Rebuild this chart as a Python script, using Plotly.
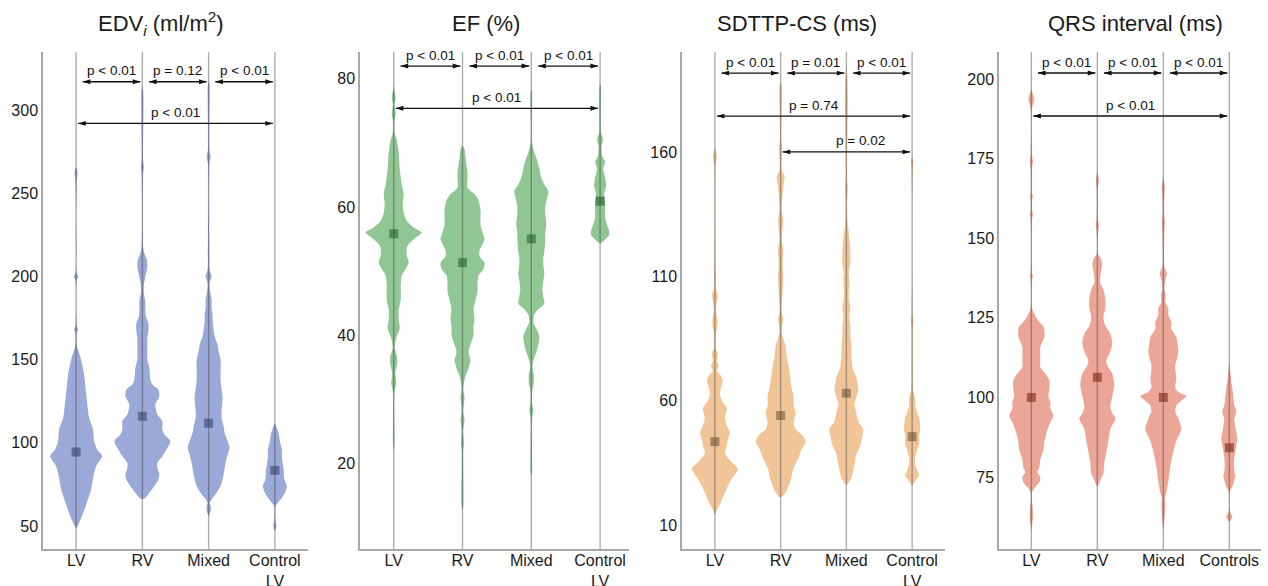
import plotly.graph_objects as go

W, H = 1268, 586

# ---------------- data ----------------
CATS_A = ["LV", "RV", "Mixed", "Control<br>LV"]
CATS_B = ["LV", "RV", "Mixed", "Controls"]

TITLES = ["EDV<sub><i>i</i></sub> (ml/m<sup>2</sup>)", "EF (%)", "SDTTP-CS (ms)", "QRS interval (ms)"]

EDV_TICKS = [50, 100, 150, 200, 250, 300]
EF_TICKS = [20, 40, 60, 80]
SD_TICKS = [10, 60, 110, 160]
QRS_TICKS = [75, 100, 125, 150, 175, 200]

# group means (square markers)
EDV_MEAN = [94.5, 116.0, 111.8, 83.5]
EF_MEAN = [55.8, 51.3, 55.0, 60.9]
SD_MEAN = [43.5, 54.0, 63.0, 45.5]
QRS_MEAN = [100.0, 106.3, 100.0, 84.2]

# violin outlines: (value, half-width in px)
EDV_LV = [(49, 0), (50, 1.5), (52, 3), (56, 6), (63, 10), (72, 15), (79, 17), (86, 20), (92, 26),
          (96, 21), (101, 18), (108, 17), (115, 13), (119, 12), (130, 10), (141, 8), (150, 5),
          (157, 1.5), (159, 0.7), (166, 0.7), (168, 2), (170, 0.7), (198, 0.7), (200, 2.5),
          (202, 0.7), (258, 0.7), (262, 1.5), (265, 0.7), (266, 0)]
EDV_RV = [(66, 0), (67, 3), (70, 7), (74, 12), (78, 16), (81, 17), (85, 15), (88, 15), (92, 20),
          (96, 24), (101, 28), (105, 22), (108, 20), (113, 20), (117, 15), (123, 13), (128, 17),
          (132, 16), (135, 10), (138, 8), (145, 7), (150, 5), (155, 5), (160, 5), (163, 5),
          (167, 6), (172, 6), (176, 3.5), (180, 3), (185, 3), (190, 1.5), (195, 1.5), (200, 3),
          (206, 5), (210, 4.5), (214, 2), (218, 0.7), (262, 0.7), (266, 1.5), (270, 0.7),
          (312, 0.7), (313, 0)]
EDV_MIX = [(56, 0), (57, 0.7), (59, 2), (62, 2), (64, 1), (66, 3), (70, 8), (74, 12), (81, 15),
           (88, 17), (93, 19), (97, 21), (101, 19), (106, 16), (110, 15), (115, 13), (119, 13),
           (127, 14), (137, 12), (145, 12), (150, 12), (155, 10), (159, 9), (164, 6), (168, 5),
           (173, 4), (177, 4), (181, 3), (186, 3), (191, 1.5), (196, 1), (200, 3), (204, 1),
           (212, 0.7), (268, 0.7), (272, 2), (276, 0.7), (316, 0.7), (317, 0)]
EDV_CTL = [(47, 0), (48, 0.7), (50, 1.5), (53, 0.7), (62, 0.7), (64, 3), (67, 7), (70, 10),
           (74, 12), (77, 10), (80, 9), (83, 9), (87, 8), (92, 7), (96, 7), (101, 5), (105, 4),
           (109, 2), (112, 0)]

EF_LV = [(22, 0), (23, 0.7), (31, 0.7), (32.5, 2.5), (34, 1.5), (35.5, 3.5), (36.5, 3.5),
         (38, 1), (39.5, 2.5), (41, 6), (42.5, 5), (44, 5), (45.5, 7), (47.8, 7), (49.3, 8),
         (50.3, 12), (51.3, 15), (52.5, 13), (53.6, 13), (54.4, 16), (55.2, 22), (56, 28),
         (56.8, 20), (57.8, 13), (59, 10), (60.5, 9), (62, 10), (63.5, 8), (66, 6), (68.5, 5),
         (70.5, 3), (71.5, 1), (73.3, 0.7), (74.7, 2), (76, 0.7), (77, 2), (78.2, 0.7), (79, 0)]
EF_RV = [(12.8, 0), (13, 0.7), (22, 0.7), (23, 1.5), (25, 0.7), (26.8, 2), (28, 0.7),
         (30.3, 2), (31.5, 0.7), (33.3, 2.5), (34.8, 6), (36, 8), (37.3, 6), (38.5, 8),
         (40, 11), (41.3, 11), (42.5, 12), (44, 11), (45.5, 13), (46.8, 15), (48, 15),
         (49.3, 16), (50.3, 21), (51.3, 22), (52.3, 17), (53.2, 17), (54.2, 20), (55, 22),
         (56, 20), (57.2, 18), (59.5, 18), (61, 16), (62, 12), (63, 5), (64.5, 5), (65.5, 5),
         (66.5, 4), (67.7, 3), (69, 2), (69.6, 0)]
EF_MIX = [(18, 0), (18.5, 0.7), (27, 0.7), (28.2, 2), (29.5, 0.7), (31.5, 1), (32.5, 2.5),
          (33.8, 2.5), (35, 1), (36.2, 2.5), (37.3, 5), (38.5, 7), (39.8, 8), (41, 5), (42, 2),
          (43.2, 3), (44, 7), (44.9, 13), (46, 12), (47.2, 11), (48.5, 12), (49.6, 13), (51, 12),
          (52, 12), (53, 13), (54.9, 14), (56, 14), (57.2, 15), (59, 14), (60.1, 14), (61.5, 16),
          (62.5, 17), (63.5, 13), (64.5, 10), (66, 8), (67.2, 6), (68.5, 3), (70, 0.7), (78, 0.7),
          (78.4, 0)]
EF_CTL = [(54.3, 0), (54.9, 5), (55.6, 9), (56.3, 9), (57.2, 7), (58.4, 5), (59.5, 5),
          (60.7, 5), (62, 4), (63.3, 6), (64.6, 5), (66, 3), (67, 5), (68, 2), (69.5, 1.5),
          (70.6, 3), (71.6, 1), (73, 0.7), (78.8, 0.7), (79.2, 0)]

SD_LV = [(14, 0), (16, 2), (19, 6), (23, 10), (28, 16), (32.5, 23), (36, 15), (39, 10),
         (42, 12), (44.5, 13), (47, 15), (50, 12), (53, 10), (57, 12), (60, 7), (62.5, 5),
         (65, 6), (68, 8), (70, 6), (72, 2), (74, 4), (76, 2), (79, 3), (81, 1), (87, 1),
         (90, 2.5), (93, 2.5), (96, 1), (100, 2), (102.5, 3), (105, 1), (110, 1), (113, 0.7),
         (155, 0.7), (158, 2), (161, 0.7), (162, 0)]
SD_RV = [(21, 0), (23, 5), (28, 10), (33, 13), (37, 18), (40.5, 21), (43.5, 25), (46, 22),
         (48.5, 15), (51, 13), (55, 15), (58, 13), (62, 13), (65, 11), (68, 10), (71, 9),
         (74, 8), (78, 6), (82, 5), (86, 2), (88, 1), (93, 2.5), (96, 1), (104, 2), (110, 2.5),
         (115, 2), (121, 2.5), (125, 1), (129, 2), (133, 2.5), (137, 1), (147, 3), (150, 4),
         (153, 1), (162, 1.5), (165, 0.7), (187, 1), (188, 0)]
SD_MIX = [(26, 0), (29, 5), (34, 8), (38.5, 10), (41, 13), (43.5, 15), (46, 16), (48.5, 17),
          (51.5, 12), (55, 10), (58.5, 8), (61.5, 10), (64.5, 12), (67, 11), (69.5, 10),
          (72, 7), (74, 6), (78, 5), (82, 5), (86, 4), (90, 4), (94, 3), (98, 4), (101, 2.5),
          (104, 2.5), (108, 3), (112, 2.5), (115, 4), (120, 4), (125, 3), (129, 2), (133, 1),
          (140, 0.7), (145, 1.5), (150, 0.7), (169, 1), (180, 1.5), (190, 1), (195, 0)]
SD_CTL = [(26, 0), (28, 3.5), (30, 7), (32, 5), (34.5, 3), (37, 3), (40, 5), (43, 7),
          (46, 7), (48, 8), (50, 8), (53, 7), (55, 5), (58, 3), (60, 3), (62, 2.5), (64, 1),
          (72, 0.7), (90, 0.7), (92, 1.5), (94, 0.7), (154, 0.7), (156, 1.5), (158, 0)]

QRS_LV = [(58, 0), (60, 0.7), (62, 1.5), (65, 1.5), (67, 0.7), (70.2, 0.7), (71.5, 3),
          (73.4, 8), (75, 9), (76.5, 6), (78, 8), (80.5, 9), (83.3, 12), (86, 13), (88.7, 15),
          (91.5, 18), (94.3, 22), (96.5, 19), (98.5, 19), (100.5, 17), (102.5, 18), (105.3, 18),
          (107.5, 14), (109.5, 9), (112, 9), (115.8, 9), (117.5, 11), (119, 13), (122, 12.5),
          (124.5, 6), (126.8, 2), (128, 0.7), (137, 0.7), (138, 1.5), (139, 0.7), (156, 0.7),
          (157.5, 1.5), (159, 0.7), (162, 0.7), (163, 1.5), (164, 0.7), (172, 0.7), (174, 1.5),
          (176, 0.7), (191, 0.7), (193.6, 3), (196, 0.7), (197, 0)]
QRS_RV = [(72, 0), (74, 3), (76, 6), (79.4, 7), (83, 9), (86.4, 11), (90, 13), (93.4, 18),
          (95, 15), (97, 13), (100.4, 15), (104, 17), (107.4, 15), (110, 10), (111.5, 9),
          (114.4, 13), (117, 15), (120, 13), (122.5, 8), (125, 6), (128, 8), (131, 8),
          (134, 6), (136, 3), (138, 3), (140, 4), (142, 5), (144, 3), (145, 0.7), (152, 0.7),
          (154, 1.5), (156, 0.7), (166, 0.7), (168, 1.5), (170, 0.7), (171, 0)]
QRS_MIX = [(58.5, 0), (60, 0.7), (63, 1.5), (66.6, 2), (68.5, 1.5), (70, 3), (73.6, 5),
           (78.3, 7), (83, 10), (86.4, 13), (90, 18), (93.4, 15), (95.5, 12), (97.5, 13),
           (99, 18), (100.4, 23), (101.7, 15), (103, 12), (106.2, 13), (108.5, 12), (110.5, 12),
           (112.5, 14), (114.4, 15), (117, 14), (119, 13), (121.5, 8), (123.7, 8), (126, 5),
           (128, 5), (130, 2), (132, 2.5), (134, 1), (137, 2), (139, 3.5), (141, 1), (145, 0.7),
           (152, 1), (155, 1.5), (158, 0.7), (163, 1), (166, 1.5), (168, 0.7), (169, 0)]
QRS_CTL = [(61, 0), (62.5, 3), (64, 0.7), (70.5, 0.7), (72, 3), (74, 5), (75.5, 6), (77, 5),
           (79, 4.5), (81, 5), (83, 6), (85, 7), (87, 8), (89, 7), (91, 6), (93, 5), (95.8, 7),
           (97.5, 5), (100.4, 4), (103, 3), (105, 2), (108, 1), (111, 0)]

# significance brackets: (from group, to group, label, level, label x or None)
EDV_P = [(0, 1, "p < 0.01", 317, None), (1, 2, "p = 0.12", 317, None),
         (2, 3, "p < 0.01", 317, None), (0, 3, "p < 0.01", 292, None)]
EF_P = [(0, 1, "p < 0.01", 82.0, None), (1, 2, "p < 0.01", 82.0, None),
        (2, 3, "p < 0.01", 82.0, None), (0, 3, "p < 0.01", 75.4, None)]
SD_P = [(0, 1, "p < 0.01", 191.8, None), (1, 2, "p = 0.01", 191.8, None),
        (2, 3, "p < 0.01", 191.8, None), (0, 3, "p = 0.74", 174.5, None),
        (1, 3, "p = 0.02", 160.1, 2.22)]
QRS_P = [(0, 1, "p < 0.01", 201.9, None), (1, 2, "p < 0.01", 201.9, None),
         (2, 3, "p < 0.01", 201.9, None), (0, 3, "p < 0.01", 188.4, None)]

# ---------------- layout / styles ----------------
panels = [
    dict(title=TITLES[0], cats=CATS_A, prof=[EDV_LV, EDV_RV, EDV_MIX, EDV_CTL], mean=EDV_MEAN,
         ticks=EDV_TICKS, fill="#9aa9d7", mark="#5d6b9d", dom=(43, 308), xr=(-0.5, 3.5),
         yr=(36.2, 334.9), tx=161, br=EDV_P),
    dict(title=TITLES[1], cats=CATS_A, prof=[EF_LV, EF_RV, EF_MIX, EF_CTL], mean=EF_MEAN,
         ticks=EF_TICKS, fill="#90c594", mark="#4f8a57", dom=(360, 629), xr=(-0.49, 3.42),
         yr=(6.56, 84.2), tx=486, br=EF_P),
    dict(title=TITLES[2], cats=CATS_A, prof=[SD_LV, SD_RV, SD_MIX, SD_CTL], mean=SD_MEAN,
         ticks=SD_TICKS, fill="#f1c598", mark="#a6825f", dom=(682, 945), xr=(-0.5, 3.5),
         yr=(0.3, 200.3), tx=797, br=SD_P),
    dict(title=TITLES[3], cats=CATS_B, prof=[QRS_LV, QRS_RV, QRS_MIX, QRS_CTL], mean=QRS_MEAN,
         ticks=QRS_TICKS, fill="#eca697", mark="#a9594c", dom=(999, 1261), xr=(-0.49, 3.48),
         yr=(52.4, 208.5), tx=1135, br=QRS_P),
]

FONT = "Liberation Sans, Arial, sans-serif"
AXC = "#a8a8a8"
YDOM = [1 - 549 / H, 1 - 52 / H]

fig = go.Figure()
layout = dict(template="none", width=W, height=H, margin=dict(l=0, r=0, t=0, b=0, pad=0),
              paper_bgcolor="white", plot_bgcolor="white", showlegend=False,
              font=dict(family=FONT, color="#1a1a1a"))
shapes, annots = [], []

for k, p in enumerate(panels):
    n = "" if k == 0 else str(k + 1)
    xa, ya = "x" + n, "y" + n
    ppu = (p["dom"][1] - p["dom"][0]) / (p["xr"][1] - p["xr"][0])
    for i, prof in enumerate(p["prof"]):
        ys = [v for v, _ in prof]
        ws = [w / ppu for _, w in prof]
        xs = [i + w for w in ws] + [i - w for w in ws[::-1]]
        yy = ys + ys[::-1]
        fig.add_trace(go.Scatter(x=xs, y=yy, xaxis=xa, yaxis=ya, mode="lines", fill="toself",
                                 fillcolor=p["fill"], line=dict(width=0, shape="spline", smoothing=0.7),
                                 hoverinfo="skip"))
    fig.add_trace(go.Scatter(x=list(range(4)), y=p["mean"], xaxis=xa, yaxis=ya, mode="markers",
                             marker=dict(symbol="square", size=9, color=p["mark"]), hoverinfo="skip"))
    # significance arrows (double headed)
    for (a, b, txt, lvl, txx) in p["br"]:
        x0 = a + (0.03 if b - a > 1 else 0.1)
        x1 = b - 0.03
        fig.add_trace(go.Scatter(x=[x0, x1], y=[lvl, lvl], xaxis=xa, yaxis=ya, mode="lines+markers",
                                 line=dict(color="#111111", width=1.4),
                                 marker=dict(symbol="arrow", size=8, angle=[-90, 90], color="#111111",
                                             line=dict(width=0)),
                                 hoverinfo="skip", cliponaxis=False))
        cx = txx if txx is not None else (x0 + x1) / 2
        annots.append(dict(x=cx, y=lvl, xref=xa, yref=ya, text=txt, showarrow=False, yshift=11,
                           font=dict(size=13.5, family=FONT, color="#111111")))
    layout["xaxis" + n] = dict(domain=[p["dom"][0] / W, p["dom"][1] / W], range=list(p["xr"]),
                               tickvals=list(range(4)), ticktext=p["cats"], showgrid=False,
                               zeroline=False, showline=True, linecolor=AXC, linewidth=1.5,
                               ticks="", automargin=False, ticklabelstandoff=-4,
                               tickfont=dict(size=16, family=FONT, color="#1a1a1a"),
                               anchor=ya, fixedrange=True)
    layout["yaxis" + n] = dict(domain=YDOM, range=list(p["yr"]), tickvals=p["ticks"],
                               showgrid=False, zeroline=False, showline=True, linecolor=AXC,
                               linewidth=1.5, ticks="", automargin=False,
                               tickfont=dict(size=16, family=FONT, color="#1a1a1a"),
                               anchor=xa, fixedrange=True)
    for i in range(4):
        shapes.append(dict(type="line", xref=xa, yref=ya + " domain", x0=i, x1=i, y0=0, y1=1,
                           layer="above", line=dict(color="rgba(60,60,60,0.42)", width=1.4)))
    annots.append(dict(x=p["tx"] / W, y=1 - 24 / H, xref="paper", yref="paper", text=p["title"],
                       showarrow=False, xanchor="center", yanchor="middle",
                       font=dict(size=22, family=FONT, color="#1a1a1a")))

layout["shapes"] = shapes
layout["annotations"] = annots
fig.update_layout(**layout)

fig.write_html("out.html", config={"displayModeBar": False},
               post_script="document.body.style.margin='0';")
